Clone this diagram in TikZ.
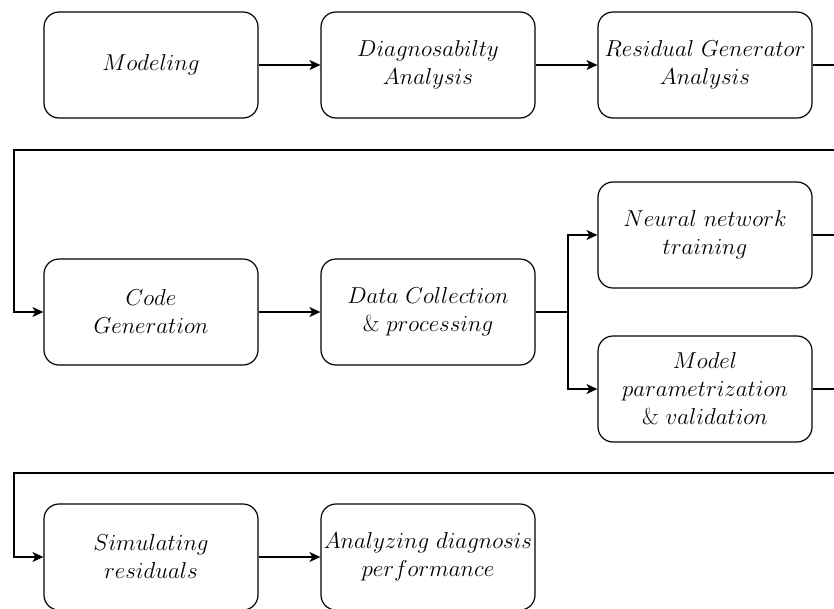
\RequirePackage{fix-cm}
\documentclass[tikz,border=0pt]{standalone}
\usetikzlibrary{arrows.meta}
\begin{document}
\begin{tikzpicture}[x=1pt,y=-1pt,
  box/.style={draw,line width=1.2pt,rounded corners=15pt,minimum width=214pt,minimum height=106pt,align=center,inner sep=0pt,font=\fontsize{23}{28}\selectfont},
  conn/.style={line width=1.2pt},
  arr/.style={conn,-{Stealth[length=11pt,width=10pt,inset=3pt]}}]
\useasboundingbox (0,0) rectangle (834,608);
\node[box] (mod) at (151,65) {$Modeling$};
\node[box] (diag) at (428,65) {$Diagnosabilty$\\$Analysis$};
\node[box] (res) at (705,65) {$Residual\ Generator$\\$Analysis$};
\node[box] (code) at (151,312) {$Code$\\$Generation$};
\node[box] (data) at (428,312) {$Data\ Collection$\\$\&\ processing$};
\node[box] (nn) at (705,235) {$Neural\ network$\\$training$};
\node[box] (mp) at (705,389) {$Model$\\$parametrization$\\$\&\ validation$};
\node[box] (sim) at (151,557) {$Simulating$\\$residuals$};
\node[box] (ana) at (428,557) {$Analyzing\ diagnosis$\\$performance$};
\coordinate (e1) at (834,65);
\coordinate (w1a) at (834,150);
\coordinate (w1b) at (14,150);
\coordinate (br) at (568,312);
\coordinate (e2) at (834,235);
\coordinate (e3) at (834,389);
\coordinate (w2a) at (834,473);
\coordinate (w2b) at (14,473);
\draw[arr] (mod) -- (diag);
\draw[arr] (diag) -- (res);
\draw[conn] (res) -- (e1);
\draw[arr] (w1a) -- (w1b) |- (code);
\draw[arr] (code) -- (data);
\draw[conn] (data) -- (br);
\draw[arr] (br) |- (nn);
\draw[arr] (br) |- (mp);
\draw[conn] (nn) -- (e2);
\draw[conn] (mp) -- (e3);
\draw[arr] (w2a) -- (w2b) |- (sim);
\draw[arr] (sim) -- (ana);
\end{tikzpicture}
\end{document}
